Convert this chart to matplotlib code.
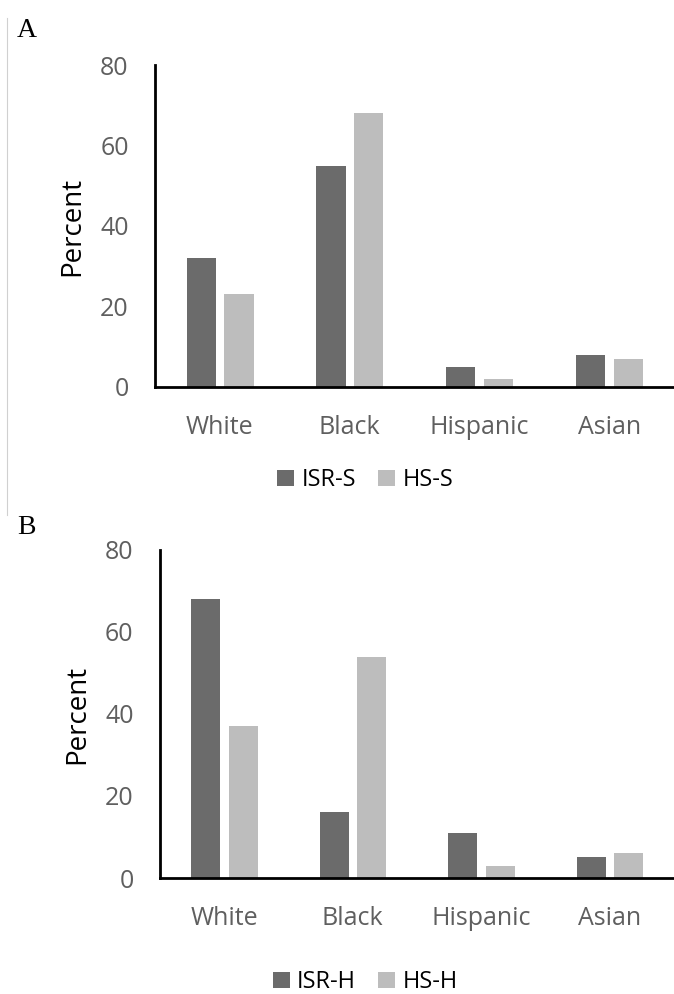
import matplotlib
matplotlib.use("Agg")
import matplotlib.pyplot as plt
import numpy as np
from matplotlib.lines import Line2D

# data
categories = ["White", "Black", "Hispanic", "Asian"]
isr_s = [32, 55, 5, 8]
hs_s = [23, 68, 2, 7]
isr_h = [68, 16, 11, 5]
hs_h = [37, 54, 3, 6]
yticks = [0, 20, 40, 60, 80]

dark = "#6b6b6b"
light = "#bdbdbd"
tickgray = "#5f5f5f"
font = "Open Sans"

fig = plt.figure(figsize=(6.74, 9.94), dpi=100)

def panel(rect, a, b, names, letter, letter_y, legend_y):
    ax = fig.add_axes(rect)
    x = np.arange(len(categories))
    w = 0.225
    ax.bar(x - 0.143, a, w, color=dark, label=names[0])
    ax.bar(x + 0.148, b, w, color=light, label=names[1])
    ax.set_xlim(-0.5, 3.5)
    ax.set_ylim(0, 80)
    ax.set_yticks(yticks)
    ax.set_xticks(x)
    ax.set_xticklabels(categories)
    ax.tick_params(length=0, colors=tickgray, labelsize=18)
    ax.tick_params(axis="y", pad=19)
    ax.tick_params(axis="x", pad=20)
    for lab in ax.get_xticklabels() + ax.get_yticklabels():
        lab.set_family(font)
    for s in ["top", "right"]:
        ax.spines[s].set_visible(False)
    for s in ["left", "bottom"]:
        ax.spines[s].set_linewidth(2.0)
        ax.spines[s].set_color("black")
    ax.set_ylabel("Percent", fontsize=20, family=font, labelpad=10)
    fig.text(0.025, letter_y, letter, fontsize=20, family="Liberation Serif", va="center")
    fig.legend(handles=ax.patches[:1] + ax.patches[4:5], labels=names,
               loc="center", bbox_to_anchor=(0.542, legend_y), ncol=2,
               frameon=False, handlelength=0.72, handleheight=0.68,
               handletextpad=0.3, columnspacing=0.95,
               prop={"family": font, "size": 17})
    return ax

panel([0.230, 0.6107, 0.77, 0.3239], isr_s, hs_s, ["ISR-S", "HS-S"], "A", 0.969, 0.517)
panel([0.2374, 0.1167, 0.7626, 0.330], isr_h, hs_h, ["ISR-H", "HS-H"], "B", 0.469, 0.012)

# thin border line on the left of panel A
fig.add_artist(Line2D([0.0104, 0.0104], [0.982, 0.482], color="#d0d0d0", lw=0.8))

fig.savefig("out.png", dpi=100)
